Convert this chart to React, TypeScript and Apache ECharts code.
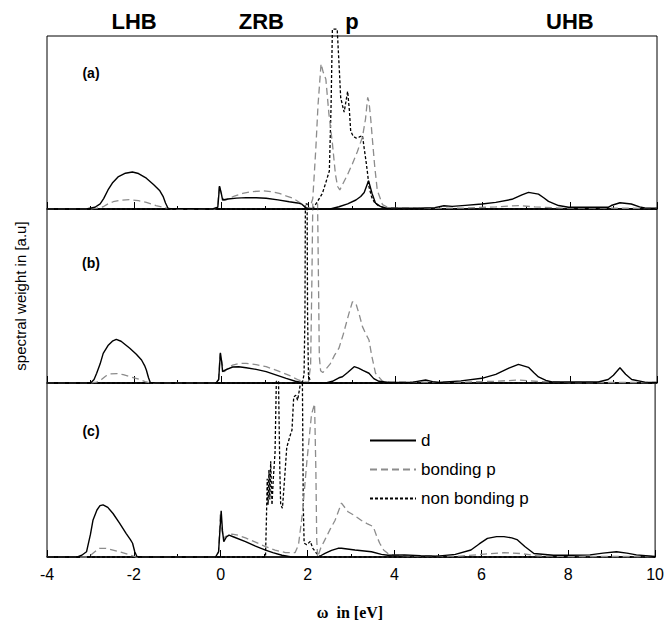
import React, { useEffect, useRef } from "react";
import * as echarts from "echarts";

// x range and tick labels
const xMin = -4;
const xMax = 10;
const xTickStep = 2;

// panel (a)
const aD = [[-4,0],[-3.1,0],[-2.9,0.01],[-2.78,0.03],[-2.7,0.06],[-2.6,0.11],[-2.5,0.15],[-2.37,0.185],[-2.2,0.207],[-2.04,0.214],[-1.9,0.205],[-1.72,0.178],[-1.55,0.14],[-1.41,0.105],[-1.33,0.07],[-1.28,0.035],[-1.22,0.003],[-0.2,0],[-0.08,0.01],[-0.04,0.132],[0.0,0.09],[0.03,0.052],[0.15,0.058],[0.35,0.063],[0.57,0.066],[0.8,0.065],[1.03,0.062],[1.3,0.053],[1.56,0.042],[1.75,0.035],[1.85,0.028],[1.95,0.005],[2.0,0],[2.5,0],[2.7,0.013],[2.9,0.03],[3.09,0.052],[3.2,0.072],[3.28,0.095],[3.38,0.163],[3.46,0.09],[3.54,0.034],[3.65,0.015],[3.77,0.006],[4.5,0.004],[4.9,0.008],[5.11,0.019],[5.3,0.015],[5.6,0.021],[5.98,0.029],[6.3,0.038],[6.67,0.056],[6.9,0.082],[7.05,0.096],[7.28,0.086],[7.4,0.065],[7.51,0.044],[7.74,0.02],[7.97,0.01],[8.88,0.01],[8.95,0.02],[9.15,0.036],[9.41,0.029],[9.6,0.012],[9.72,0.006],[10,0.005]];
const aBond = [[-4,0],[-3.0,0],[-2.85,0.005],[-2.71,0.013],[-2.6,0.03],[-2.48,0.042],[-2.3,0.051],[-2.1,0.054],[-1.9,0.048],[-1.72,0.038],[-1.5,0.02],[-1.26,0.006],[-1.1,0],[-0.15,0],[-0.08,0.02],[-0.05,0.138],[0.0,0.09],[0.06,0.05],[0.11,0.052],[0.3,0.075],[0.49,0.09],[0.7,0.1],[0.95,0.105],[1.15,0.1],[1.33,0.09],[1.5,0.075],[1.64,0.063],[1.78,0.04],[1.87,0.025],[1.95,0.01],[2.03,0.005],[2.1,0.06],[2.17,0.35],[2.22,0.6],[2.29,0.84],[2.34,0.79],[2.4,0.75],[2.47,0.55],[2.55,0.38],[2.62,0.2],[2.67,0.13],[2.72,0.11],[2.8,0.15],[2.9,0.2],[3.01,0.262],[3.12,0.33],[3.24,0.416],[3.31,0.52],[3.36,0.645],[3.39,0.62],[3.43,0.52],[3.47,0.397],[3.52,0.25],[3.58,0.109],[3.7,0.025],[3.85,0.006],[4.5,0.004],[5.5,0.005],[6.3,0.012],[6.82,0.02],[7.2,0.012],[7.8,0.005],[10,0.004]];
const aNonBond = [[-4,0],[2.05,0],[2.12,0.01],[2.2,0.04],[2.32,0.09],[2.42,0.17],[2.48,0.22],[2.52,0.6],[2.55,1.04],[2.66,1.04],[2.71,0.8],[2.74,0.645],[2.78,0.6],[2.82,0.56],[2.86,0.62],[2.9,0.68],[2.94,0.57],[2.97,0.45],[3.03,0.42],[3.09,0.41],[3.16,0.415],[3.24,0.425],[3.28,0.35],[3.32,0.28],[3.36,0.2],[3.39,0.128],[3.45,0.07],[3.51,0.04],[3.6,0.02],[3.7,0.01],[3.85,0],[10,0]];

// panel (b)
const bD = [[-4,0],[-3.0,0],[-2.92,0.02],[-2.86,0.056],[-2.78,0.11],[-2.71,0.17],[-2.6,0.215],[-2.5,0.24],[-2.41,0.251],[-2.3,0.24],[-2.2,0.22],[-2.1,0.2],[-1.95,0.165],[-1.83,0.132],[-1.76,0.1],[-1.72,0.075],[-1.67,0.03],[-1.63,0.003],[-1.5,0],[-0.12,0],[-0.06,0.02],[-0.02,0.174],[0.01,0.12],[0.03,0.065],[0.1,0.075],[0.26,0.092],[0.4,0.093],[0.57,0.088],[0.8,0.078],[1.03,0.065],[1.25,0.047],[1.49,0.027],[1.7,0.01],[1.9,0],[2.4,0],[2.55,0.01],[2.7,0.03],[2.78,0.036],[2.9,0.06],[3.05,0.094],[3.15,0.085],[3.25,0.072],[3.39,0.056],[3.5,0.025],[3.62,0.01],[3.85,0.003],[4.4,0.005],[4.69,0.017],[4.85,0.008],[4.99,0.003],[5.5,0.012],[5.98,0.027],[6.3,0.05],[6.6,0.085],[6.82,0.107],[7.05,0.09],[7.17,0.06],[7.28,0.035],[7.45,0.015],[7.59,0.006],[8.65,0.006],[8.88,0.02],[9.0,0.045],[9.15,0.088],[9.28,0.05],[9.42,0.02],[9.72,0.005],[10,0.003]];
const bBond = [[-4,0],[-3.0,0],[-2.86,0.005],[-2.75,0.02],[-2.65,0.04],[-2.56,0.052],[-2.4,0.054],[-2.25,0.048],[-2.05,0.033],[-1.87,0.02],[-1.75,0.008],[-1.63,0],[-0.12,0],[-0.06,0.02],[-0.03,0.17],[0.02,0.11],[0.07,0.065],[0.15,0.085],[0.26,0.103],[0.4,0.112],[0.57,0.113],[0.8,0.105],[1.03,0.094],[1.3,0.07],[1.56,0.044],[1.75,0.02],[1.9,0.006],[2.0,0.005],[2.05,0.1],[2.08,0.6],[2.1,1.03],[2.21,1.03],[2.23,0.6],[2.25,0.15],[2.28,0.07],[2.33,0.06],[2.4,0.08],[2.5,0.11],[2.6,0.16],[2.7,0.2],[2.8,0.28],[2.93,0.4],[3.01,0.467],[3.09,0.457],[3.17,0.39],[3.24,0.324],[3.32,0.28],[3.39,0.247],[3.45,0.16],[3.54,0.056],[3.7,0.01],[3.9,0.005],[5.5,0.005],[6.3,0.01],[6.82,0.017],[7.3,0.008],[8,0.003],[10,0.003]];
const bNonBond = [[-4,0],[1.86,0],[1.9,0.05],[1.92,0.4],[1.93,1.03],[1.97,1.03],[1.98,0.4],[2.0,0.05],[2.05,0],[10,0]];

// panel (c)
const cD = [[-4,0],[-3.3,0],[-3.2,0.01],[-3.09,0.03],[-3.0,0.13],[-2.94,0.213],[-2.85,0.27],[-2.78,0.295],[-2.71,0.3],[-2.6,0.285],[-2.48,0.25],[-2.33,0.195],[-2.18,0.136],[-2.08,0.1],[-2.03,0.079],[-1.98,0.03],[-1.93,0.003],[-1.8,0],[-0.12,0],[-0.05,0.03],[0.01,0.266],[0.04,0.15],[0.07,0.088],[0.13,0.115],[0.19,0.126],[0.3,0.115],[0.57,0.088],[0.8,0.062],[1.03,0.04],[1.2,0.025],[1.41,0.01],[1.63,0],[2.25,0],[2.32,0.01],[2.4,0.021],[2.55,0.038],[2.7,0.05],[2.78,0.05],[3.09,0.04],[3.47,0.03],[3.7,0.015],[3.85,0.01],[4.23,0.012],[4.6,0.007],[4.99,0.005],[5.4,0.015],[5.76,0.04],[5.95,0.075],[6.14,0.107],[6.35,0.117],[6.52,0.117],[6.7,0.11],[6.82,0.1],[7.0,0.06],[7.21,0.02],[7.66,0.01],[8.1,0.01],[8.5,0.012],[8.8,0.022],[9.11,0.03],[9.35,0.022],[9.57,0.012],[10,0.003]];
const cBond = [[-4,0],[-3.1,0],[-3.02,0.005],[-2.9,0.03],[-2.79,0.05],[-2.65,0.05],[-2.56,0.045],[-2.3,0.028],[-2.1,0.012],[-1.95,0],[-0.12,0],[-0.05,0.03],[-0.01,0.25],[0.03,0.15],[0.07,0.1],[0.1,0.117],[0.26,0.132],[0.4,0.125],[0.57,0.11],[0.8,0.085],[1.03,0.06],[1.25,0.04],[1.49,0.025],[1.71,0.025],[1.79,0.07],[1.88,0.25],[1.98,0.54],[2.09,0.82],[2.16,0.88],[2.19,0.5],[2.21,0.1],[2.23,0],[2.3,0.05],[2.4,0.1],[2.52,0.16],[2.63,0.21],[2.78,0.31],[2.93,0.26],[3.1,0.235],[3.24,0.21],[3.38,0.19],[3.51,0.175],[3.59,0.12],[3.66,0.079],[3.75,0.04],[3.85,0.02],[4.0,0.01],[4.5,0.005],[5.5,0.005],[6.0,0.015],[6.52,0.025],[6.9,0.02],[7.3,0.006],[8,0.003],[10,0.003]];
const cNonBond = [[-4,0],[1.03,0],[1.05,0.2],[1.07,0.45],[1.09,0.3],[1.11,0.5],[1.13,0.33],[1.15,0.55],[1.18,0.3],[1.21,0.45],[1.25,0.6],[1.28,1.01],[1.33,1.01],[1.36,0.5],[1.38,0.3],[1.42,0.28],[1.47,0.45],[1.52,0.63],[1.6,0.7],[1.64,0.73],[1.68,0.92],[1.73,0.93],[1.77,0.9],[1.83,0.99],[1.88,1.01],[1.9,0.3],[1.92,0.08],[1.98,0.07],[2.06,0.09],[2.12,0.05],[2.21,0.02],[2.3,0],[10,0]];

const seriesNames = ["d", "bonding p", "non bonding p"];
const panelLabels = ["(a)", "(b)", "(c)"];
const bandLabels = ["LHB", "ZRB", "p", "UHB"];
const bandPositions = [-2, 0.92, 3.0, 8.0];

const panels = [
  [aD, aBond, aNonBond],
  [bD, bBond, bNonBond],
  [cD, cBond, cNonBond],
];

const FONT = "Liberation Sans, Arial, sans-serif";

export default function App() {
  const ref = useRef<HTMLDivElement>(null);
  useEffect(() => {
    if (!ref.current) return;
    document.body.style.margin = "0";
    const chart = echarts.init(ref.current, undefined, { renderer: "svg" });
    const left = 47;
    const right = 657;
    const tops = [36, 209, 383];
    const heights = [173, 174, 174];
    const styles = [
      { color: "#000", type: "solid" as any, width: 1.4 },
      { color: "#8c8c8c", type: [7, 4] as any, width: 1.3 },
      { color: "#000", type: [3, 2] as any, width: 1.3 },
    ];
    const grids = tops.map((t, i) => ({
      left,
      width: right - left,
      top: t,
      height: heights[i],
      show: true,
      borderColor: "#000",
      borderWidth: 1,
    }));
    const xAxes = tops.map((_, i) => ({
      type: "value",
      gridIndex: i,
      min: xMin,
      max: xMax,
      interval: xTickStep,
      axisLine: { show: true, lineStyle: { color: "#000", width: 1.5 } },
      axisTick: { show: true, inside: true, length: 7, lineStyle: { color: "#000" } },
      minorTick: { show: true, splitNumber: 2, length: 3, lineStyle: { color: "#000" } },
      splitLine: { show: false },
      axisLabel: {
        show: i === 2,
        color: "#000",
        fontSize: 16,
        fontFamily: FONT,
        margin: 9,
      },
    }));
    const yAxes = tops.map((_, i) => ({
      type: "value",
      gridIndex: i,
      min: 0,
      max: 1,
      show: false,
    }));
    const series: any[] = [];
    panels.forEach((p, gi) => {
      p.forEach((data, si) => {
        series.push({
          type: "line",
          name: seriesNames[si],
          xAxisIndex: gi,
          yAxisIndex: gi,
          data,
          symbol: "none",
          clip: false,
          smooth: false,
          color: styles[si].color,
          lineStyle: styles[si],
          z: 3 - si,
        });
      });
    });
    const xToPx = (v: number) => left + ((v - xMin) / (xMax - xMin)) * (right - left);
    const graphics: any[] = [];
    bandLabels.forEach((b, i) => {
      graphics.push({
        type: "text",
        x: xToPx(bandPositions[i]),
        y: 21,
        style: {
          text: b,
          font: `bold 22px ${FONT}`,
          fill: "#000",
          textAlign: "center",
          textVerticalAlign: "middle",
        },
      });
    });
    const labelY = [73, 263, 431];
    panelLabels.forEach((l, i) => {
      graphics.push({
        type: "text",
        x: 91,
        y: labelY[i],
        style: {
          text: l,
          font: `bold 14px ${FONT}`,
          fill: "#000",
          textAlign: "center",
          textVerticalAlign: "middle",
        },
      });
    });
    graphics.push({
      type: "text",
      x: 20,
      y: 296,
      rotation: Math.PI / 2,
      style: {
        text: "spectral weight in [a.u]",
        font: `15px ${FONT}`,
        fill: "#000",
        textAlign: "center",
        textVerticalAlign: "middle",
      },
    });
    graphics.push({
      type: "text",
      x: 350,
      y: 612,
      style: {
        text: "ω  in [eV]",
        font: `bold 16px "Liberation Serif", "Times New Roman", serif`,
        fill: "#000",
        textAlign: "center",
        textVerticalAlign: "middle",
      },
    });
    chart.setOption({
      animation: false,
      grid: grids,
      xAxis: xAxes,
      yAxis: yAxes,
      series,
      legend: {
        data: seriesNames,
        orient: "vertical",
        left: 364,
        top: 427,
        itemWidth: 46,
        itemHeight: 14,
        itemGap: 12,
        itemStyle: { opacity: 0 },
        textStyle: { fontSize: 17, color: "#000", fontFamily: FONT },
      },
      graphic: graphics,
    });
    return () => chart.dispose();
  }, []);
  return <div ref={ref} style={{ position: "absolute", left: 0, top: 0, width: 667, height: 627 }} />;
}
